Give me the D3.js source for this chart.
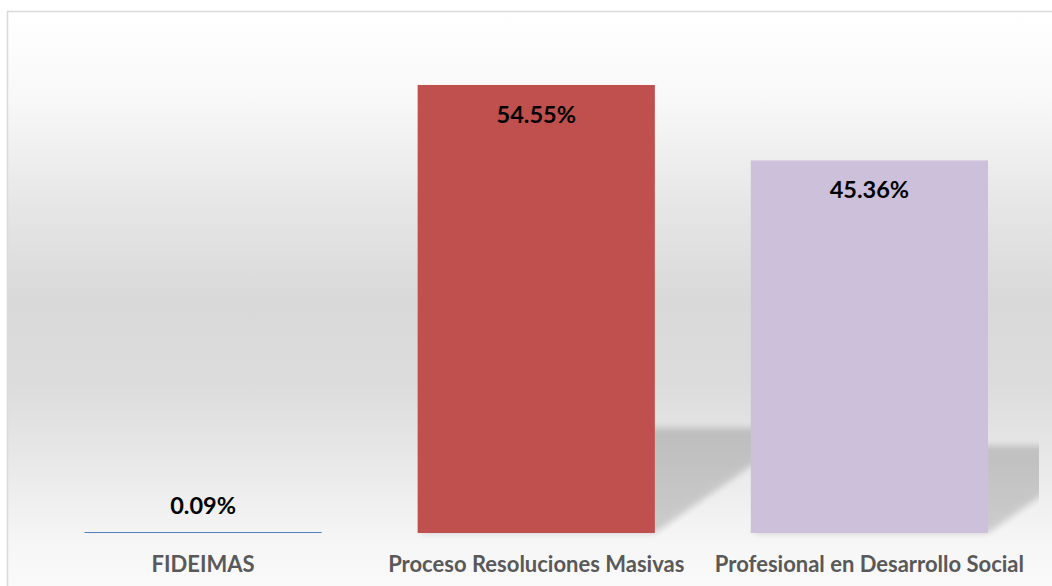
<!DOCTYPE html>
<html>
<head>
<meta charset="utf-8">
<script src="https://cdn.jsdelivr.net/npm/d3@7"></script>
<style>
  html, body { margin: 0; padding: 0; background: #fff; }
  svg { display: block; }
</style>
</head>
<body>
<svg id="chart" width="1052" height="586"></svg>
<script>
const categories = ['FIDEIMAS', 'Proceso Resoluciones Masivas', 'Profesional en Desarrollo Social'];
const values = [0.09, 54.55, 45.36];
const valueLabels = ['0.09%', '54.55%', '45.36%'];
const barColors = ['#4F81BD', '#C0504D', '#CCC0DA'];

const width = 1052, height = 586;
const svg = d3.select('#chart');
const defs = svg.append('defs');

// background gradient of chart area
const grad = defs.append('linearGradient')
    .attr('id', 'bg').attr('x1', 0).attr('y1', 0).attr('x2', 0).attr('y2', 1);
[[0, '#ffffff'], [0.15, '#f8f8f8'], [0.33, '#e6e6e6'], [0.49, '#d9d9d9'],
 [0.63, '#dcdcdc'], [0.74, '#e6e6e6'], [0.9, '#f6f6f6'], [1, '#fbfbfb']]
    .forEach(s => grad.append('stop').attr('offset', s[0]).attr('stop-color', s[1]));

defs.append('filter').attr('id', 'blur').attr('x', '-10%').attr('y', '-10%')
    .attr('width', '120%').attr('height', '120%')
    .append('feGaussianBlur').attr('stdDeviation', 3);

defs.append('clipPath').attr('id', 'plotClip')
    .append('rect').attr('x', 8).attr('y', 12).attr('width', 1031).attr('height', 560);

svg.append('rect')
    .attr('x', 7.5).attr('y', 11.5)
    .attr('width', 1060).attr('height', 590)
    .attr('fill', 'url(#bg)')
    .attr('stroke', '#d9d9d9').attr('stroke-width', 1.5);

const x = d3.scaleBand()
    .domain(categories)
    .range([36.5, 1036])
    .paddingInner(0.288)
    .paddingOuter(0.144);

const y = d3.scaleLinear()
    .domain([0, 60])
    .range([533, 533 - 60 * 8.213]);

const data = categories.map((c, i) => ({ cat: c, value: values[i], label: valueLabels[i], color: barColors[i] }));

// perspective shadows
const shadowRatio = 0.235, skew = 1.43;
svg.append('g').attr('clip-path', 'url(#plotClip)')
  .selectAll('path').data(data).enter().append('path')
    .attr('d', d => {
        const x0 = x(d.cat), x1 = x0 + x.bandwidth();
        const dy = (y(0) - y(d.value)) * shadowRatio, dx = dy * skew;
        const b = y(0);
        return `M${x0},${b}L${x1},${b}L${x1 + dx},${b - dy}L${x0 + dx},${b - dy}Z`;
    })
    .attr('fill', '#000')
    .attr('opacity', 0.16)
    .attr('filter', 'url(#blur)');

svg.append('g').selectAll('rect').data(data).enter().append('rect')
    .attr('x', d => x(d.cat))
    .attr('width', x.bandwidth())
    .attr('y', d => Math.min(y(d.value), y(0) - 1))
    .attr('height', d => Math.max(1, y(0) - y(d.value)))
    .attr('fill', d => d.color);

svg.append('g').selectAll('text').data(data).enter().append('text')
    .attr('x', d => x(d.cat) + x.bandwidth() / 2)
    .attr('y', d => (y(0) - y(d.value)) > 40 ? y(d.value) + 38 : y(d.value) - 18)
    .attr('text-anchor', 'middle')
    .attr('font-family', 'Lato, "Open Sans", sans-serif')
    .attr('font-weight', 'bold')
    .attr('font-size', 23.5)
    .attr('fill', '#000')
    .text(d => d.label);

const axis = d3.axisBottom(x).tickSize(0).tickPadding(0);
const axisG = svg.append('g').attr('transform', `translate(0,${y(0)})`).call(axis);
axisG.select('.domain').remove();
axisG.selectAll('text')
    .attr('dy', 0)
    .attr('y', 38.7)
    .attr('font-family', 'Lato, "Open Sans", sans-serif')
    .attr('font-weight', 'bold')
    .attr('font-size', 22)
    .attr('fill', '#595959');
</script>
</body>
</html>
